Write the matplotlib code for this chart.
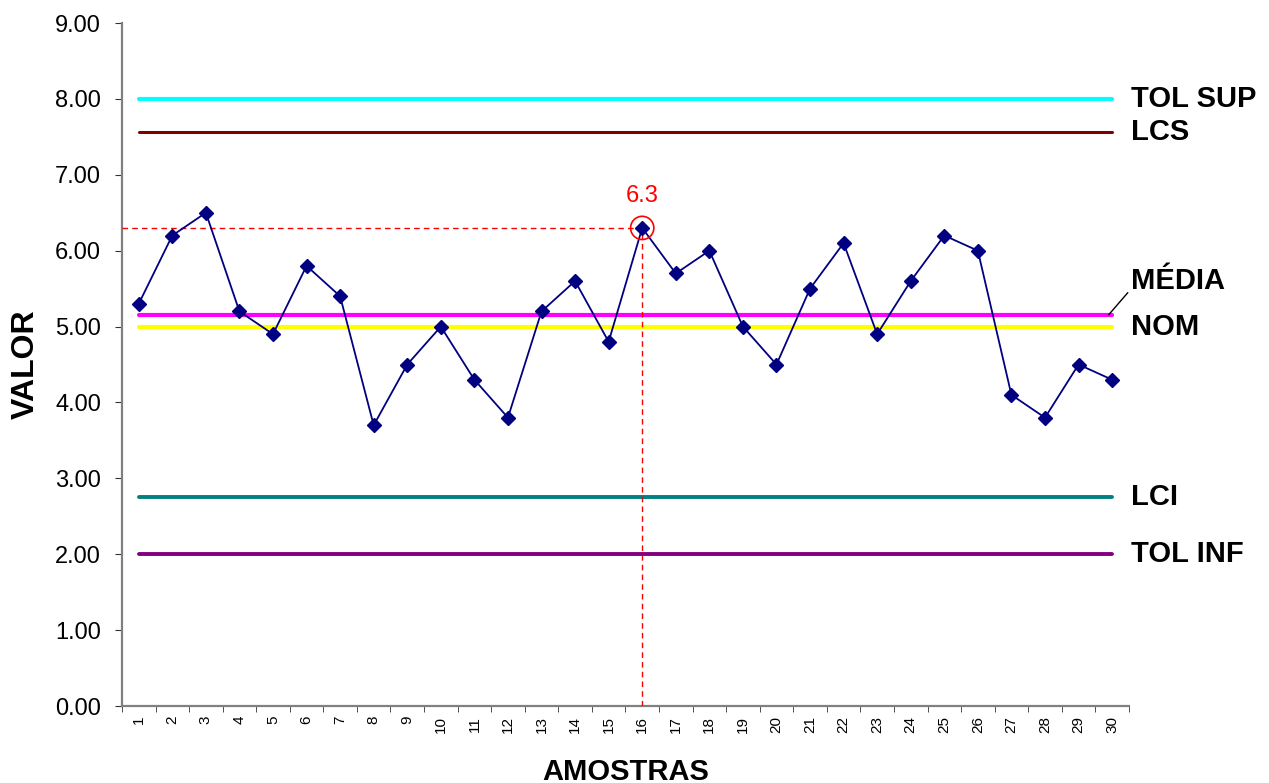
import matplotlib.pyplot as plt
import numpy as np

plt.rcParams['font.family'] = ['Liberation Sans', 'DejaVu Sans']

amostras = np.arange(1, 31)
valores = [5.3, 6.2, 6.5, 5.2, 4.9, 5.8, 5.4, 3.7, 4.5, 5.0,
           4.3, 3.8, 5.2, 5.6, 4.8, 6.3, 5.7, 6.0, 5.0, 4.5,
           5.5, 6.1, 4.9, 5.6, 6.2, 6.0, 4.1, 3.8, 4.5, 4.3]

tol_sup = 8.0
lcs = 7.57
media = np.mean(valores)
nom = 5.0
lci = 2.75
tol_inf = 2.0

destaque = 16  # amostra marcada no grafico

fig = plt.figure(figsize=(12.69, 7.83), dpi=100)
ax = fig.add_axes([0.0961, 0.0983, 0.7935, 0.8723])

# linhas de referencia
linhas = [
    (tol_sup, '#00FFFF', 3.0, 'TOL SUP'),
    (lcs, '#800000', 2.2, 'LCS'),
    (media, '#FF00FF', 3.0, 'MÉDIA'),
    (nom, '#FFFF00', 3.0, 'NOM'),
    (lci, '#008080', 2.8, 'LCI'),
    (tol_inf, '#800080', 2.8, 'TOL INF'),
]
for val, cor, lw, nome in linhas:
    ax.plot(amostras, [val] * len(amostras), color=cor, lw=lw, solid_capstyle='round', zorder=2)

# rotulos a direita
for val, cor, lw, nome in linhas:
    if nome == 'MÉDIA':
        ax.annotate(nome, xy=(29.9, val), xytext=(30.55, 5.6),
                    fontsize=21, fontweight='bold', va='center', ha='left',
                    arrowprops=dict(arrowstyle='-', color='black', lw=1,
                                    shrinkA=0, shrinkB=0, relpos=(0, 0.2)),
                    annotation_clip=False)
    else:
        ax.text(30.55, val, nome, fontsize=21, fontweight='bold', va='center', ha='left')

# serie de valores
ax.plot(amostras, valores, color='#000080', lw=1.3, marker='D', markersize=7, zorder=4)

# destaque do ponto maximo
y_dest = valores[destaque - 1]
ax.plot([0.5, destaque], [y_dest, y_dest], color='red', lw=1, ls=(0, (4, 3)), zorder=3)
ax.plot([destaque, destaque], [0, y_dest], color='red', lw=1, ls=(0, (4, 3)), zorder=3)
ax.scatter([destaque], [y_dest], s=280, facecolors='none', edgecolors='red', lw=1.2, zorder=5)
ax.text(destaque, y_dest + 0.42, str(y_dest), color='red', fontsize=17, ha='center', va='center')

ax.set_xlim(0.5, 30.5)
ax.set_ylim(0, 9)
ax.set_yticks(np.arange(0, 10, 1))
ax.set_yticklabels([f'{v:.2f}' for v in range(10)], fontsize=17)
ax.set_xticks(amostras)
ax.set_xticklabels([str(a) for a in amostras], rotation=90, fontsize=11)
ax.set_xticks(np.arange(0.5, 31, 1), minor=True)
ax.tick_params(axis='x', which='major', length=0, pad=7)
ax.tick_params(axis='x', which='minor', length=4, color='#333333')
ax.tick_params(axis='y', length=5, color='#333333', pad=10)

for s in ['top', 'right']:
    ax.spines[s].set_visible(False)
for s in ['left', 'bottom']:
    ax.spines[s].set_color('gray')
    ax.spines[s].set_linewidth(1.6)

ax.set_xlabel('AMOSTRAS', fontsize=21, fontweight='bold', labelpad=18)
ax.set_ylabel('VALOR', fontsize=23, fontweight='bold', labelpad=10)

fig.savefig('out.png', dpi=100)
